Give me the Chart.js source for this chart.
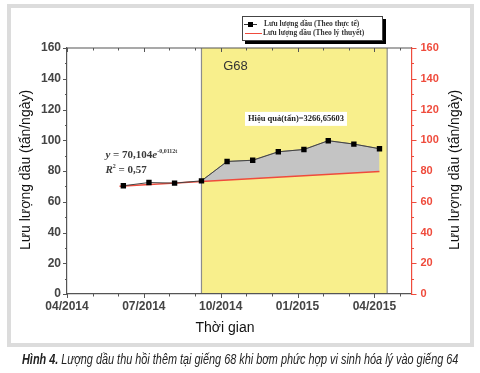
<!DOCTYPE html>
<html lang="vi">
<head>
<meta charset="UTF-8">
<title>Hình 4</title>
<script src="https://cdn.jsdelivr.net/npm/chart.js"></script>
<style>
  body { margin: 0; background: #fff; width: 480px; height: 373px; overflow: hidden; position: relative; }
  #frame { position: absolute; left: 7px; top: 4px; width: 467px; height: 343px; box-sizing: border-box; border: 4px solid #dcdcdc; }
  #chartCanvas { position: absolute; left: 0; top: 0; }
  #caption { position: absolute; left: 22px; top: 351px; white-space: nowrap; transform-origin: 0 0;
    font-family: "Liberation Sans", Arial, sans-serif; font-style: italic; font-size: 14px; color: #222; }
</style>
</head>
<body>
<div id="frame"></div>
<canvas id="chartCanvas" width="480" height="373"></canvas>
<div id="caption"><b>Hình 4.</b> Lượng dầu thu hồi thêm tại giếng 68 khi bơm phức hợp vi sinh hóa lý vào giếng 64</div>

<script>
    // x values are months counted from 04/2014
    const months = [2.2, 3.2, 4.2, 5.25, 6.25, 7.25, 8.25, 9.25, 10.2, 11.2, 12.2];
    const actualFlow = [70.4, 72.5, 72.1, 73.6, 86.2, 87.0, 92.5, 94.0, 99.7, 97.5, 94.5];
    const theoryMonths = [2.05, 5.25, 12.2];
    const theoryFlow = [70.1, 73.2, 79.7];
    const xTickValues = [0, 3, 6, 9, 12];
    const xTickLabels = ['04/2014', '07/2014', '10/2014', '01/2015', '04/2015'];
    const injectionPeriod = [5.25, 12.5]; // yellow G68 band
    const seriesNames = ['Lưu lượng dầu (Theo thực tế)', 'Lưu lượng dầu (Theo lý thuyết)'];
    const startFill = 3; // gain area starts at this point

    const toXY = (xs, ys) => xs.map((x, i) => ({ x: x, y: ys[i] }));

    const axisGray = '#555';
    const red = '#ef4b3c';

    // squeeze caption into the condensed width of the original
    const cap = document.getElementById('caption');
    cap.style.transform = 'scaleX(' + (436 / cap.offsetWidth) + ')';

    const overlay = {
        id: 'overlay',
        beforeDraw(chart) {
            const { ctx, chartArea, scales } = chart;
            const x0 = scales.x.getPixelForValue(injectionPeriod[0]);
            const x1 = scales.x.getPixelForValue(injectionPeriod[1]);
            ctx.save();
            ctx.fillStyle = '#f8ef8c';
            ctx.fillRect(x0, chartArea.top, x1 - x0, chartArea.bottom - chartArea.top);
            ctx.strokeStyle = '#8c8c8c';
            ctx.lineWidth = 1.2;
            ctx.beginPath();
            ctx.moveTo(x0, chartArea.top); ctx.lineTo(x0, chartArea.bottom);
            ctx.moveTo(x1, chartArea.top); ctx.lineTo(x1, chartArea.bottom);
            ctx.stroke();
            ctx.restore();
        },
        afterDraw(chart) {
            const { ctx, chartArea: a, scales } = chart;
            const xs = scales.x, y = scales.y;
            ctx.save();

            // top frame line
            ctx.strokeStyle = axisGray;
            ctx.lineWidth = 1.2;
            ctx.beginPath();
            ctx.moveTo(a.left, a.top); ctx.lineTo(a.right, a.top);
            ctx.stroke();

            // x tick marks, monthly, bottom outward and top inward
            ctx.lineWidth = 1;
            ctx.beginPath();
            for (let m = 0; m <= 13; m++) {
                const px = Math.round(xs.getPixelForValue(m)) + 0.5;
                const len = m % 3 === 0 ? 4 : 2.5;
                ctx.moveTo(px, a.bottom); ctx.lineTo(px, a.bottom + len);
                ctx.moveTo(px, a.top); ctx.lineTo(px, a.top + len);
            }
            // left y ticks
            for (let v = 0; v <= 160; v += 10) {
                const py = Math.round(y.getPixelForValue(v)) + 0.5;
                const len = v % 20 === 0 ? 4 : 2;
                ctx.moveTo(a.left, py); ctx.lineTo(a.left - len, py);
            }
            ctx.stroke();
            // right y ticks (red)
            ctx.strokeStyle = red;
            ctx.beginPath();
            for (let v = 0; v <= 160; v += 10) {
                const py = Math.round(y.getPixelForValue(v)) + 0.5;
                const len = v % 20 === 0 ? 5 : 2.5;
                ctx.moveTo(a.right, py); ctx.lineTo(a.right + len, py);
            }
            ctx.stroke();

            // G68 label
            ctx.fillStyle = '#333';
            ctx.font = '13px "Liberation Sans", Arial, sans-serif';
            ctx.textBaseline = 'middle';
            ctx.textAlign = 'left';
            ctx.fillText('G68', xs.getPixelForValue(6.1), y.getPixelForValue(147.8));

            // efficiency label with white box
            const effText = 'Hiệu quả(tấn)=3266,65603';
            ctx.font = 'bold 8.5px "Liberation Serif", serif';
            const ex = xs.getPixelForValue(8.94), ey = y.getPixelForValue(113.9);
            const ew = ctx.measureText(effText).width;
            ctx.fillStyle = '#fff';
            ctx.fillRect(ex - ew / 2 - 3, ey - 7, ew + 6, 14);
            ctx.fillStyle = '#222';
            ctx.textAlign = 'center';
            ctx.fillText(effText, ex, ey);

            // regression equation
            ctx.textAlign = 'left';
            ctx.textBaseline = 'alphabetic';
            ctx.fillStyle = '#3a3a3a';
            let px = xs.getPixelForValue(1.5);
            const by1 = y.getPixelForValue(88.7);
            const by2 = y.getPixelForValue(78.8);
            const parts = [
                ['italic bold 11px "Liberation Serif", serif', 'y', 0],
                ['bold 11px "Liberation Serif", serif', ' = 70,104', 0],
                ['italic bold 11px "Liberation Serif", serif', 'e', 0],
                ['bold 6px "Liberation Serif", serif', '-0,0112t', -5]
            ];
            parts.forEach(p => {
                ctx.font = p[0];
                ctx.fillText(p[1], px, by1 + p[2]);
                px += ctx.measureText(p[1]).width;
            });
            px = xs.getPixelForValue(1.5);
            const parts2 = [
                ['italic bold 11px "Liberation Serif", serif', 'R', 0],
                ['bold 6px "Liberation Serif", serif', '2', -5],
                ['bold 11px "Liberation Serif", serif', ' = 0,57', 0]
            ];
            parts2.forEach(p => {
                ctx.font = p[0];
                ctx.fillText(p[1], px, by2 + p[2]);
                px += ctx.measureText(p[1]).width;
            });

            // legend box with shadow
            ctx.fillStyle = '#000';
            ctx.fillRect(245, 19, 141, 25);
            ctx.fillStyle = '#fff';
            ctx.fillRect(242, 16, 141, 25);
            ctx.strokeStyle = '#444';
            ctx.lineWidth = 1;
            ctx.strokeRect(242.5, 16.5, 140, 24);
            ctx.strokeStyle = '#333';
            ctx.beginPath(); ctx.moveTo(244, 24.5); ctx.lineTo(257, 24.5); ctx.stroke();
            ctx.fillStyle = '#000';
            ctx.fillRect(248, 22, 5, 5);
            ctx.strokeStyle = red;
            ctx.beginPath(); ctx.moveTo(245, 33.5); ctx.lineTo(262, 33.5); ctx.stroke();
            ctx.fillStyle = '#333';
            ctx.font = 'bold 7.5px "Liberation Serif", serif';
            ctx.textBaseline = 'middle';
            ctx.fillText(seriesNames[0], 264, 24.5);
            ctx.fillText(seriesNames[1], 263, 33.5);

            // axis titles
            ctx.fillStyle = '#111';
            ctx.font = '14px "Liberation Sans", Arial, sans-serif';
            ctx.textAlign = 'center';
            ctx.fillText('Thời gian', 225, 328);
            ['L', 'R'].forEach(side => {
                ctx.save();
                ctx.translate(side === 'L' ? 26 : 455, 170);
                ctx.rotate(-Math.PI / 2);
                ctx.fillText('Lưu lượng dầu (tấn/ngày)', 0, 0);
                ctx.restore();
            });

            ctx.restore();
        }
    };

    const ctx = document.getElementById('chartCanvas').getContext('2d');

    const chart = new Chart(ctx, {
        type: 'line',
        data: {
            datasets: [
                {
                    label: 'gain',
                    data: toXY(months.slice(startFill), actualFlow.slice(startFill)),
                    borderColor: '#8a8a8a',
                    borderWidth: 1,
                    backgroundColor: '#c4c4c4',
                    pointRadius: 0,
                    fill: 1,
                    order: 3
                },
                {
                    label: seriesNames[1],
                    data: toXY(theoryMonths, theoryFlow),
                    borderColor: red,
                    borderWidth: 1.5,
                    pointRadius: 0,
                    fill: false,
                    order: 2
                },
                {
                    label: seriesNames[0],
                    data: toXY(months, actualFlow),
                    borderColor: '#444',
                    borderWidth: 1,
                    pointStyle: 'rect',
                    pointRadius: 3.8,
                    pointBackgroundColor: '#000',
                    pointBorderColor: '#000',
                    pointBorderWidth: 0,
                    fill: false,
                    order: 1
                }
            ]
        },
        options: {
            responsive: false,
            animation: false,
            layout: { padding: { top: 48, left: 0, right: 0, bottom: 0 } },
            plugins: {
                legend: { display: false },
                tooltip: { enabled: false }
            },
            scales: {
                x: {
                    type: 'linear',
                    min: 0,
                    max: 13.45,
                    grid: { display: false, drawTicks: false },
                    border: { display: true, color: axisGray, width: 1.2 },
                    afterBuildTicks: s => { s.ticks = xTickValues.map(v => ({ value: v })); },
                    ticks: {
                        autoSkip: false,
                        maxRotation: 0,
                        padding: 5,
                        color: '#444',
                        font: { family: '"Liberation Sans", Arial, sans-serif', size: 12, weight: 'bold' },
                        callback: v => xTickLabels[xTickValues.indexOf(v)] || ''
                    },
                    afterFit: s => { s.height = 79; }
                },
                y: {
                    position: 'left',
                    min: 0,
                    max: 160,
                    grid: { display: false, drawTicks: false },
                    border: { display: true, color: axisGray, width: 1.2 },
                    ticks: {
                        stepSize: 20,
                        padding: 6,
                        color: '#444',
                        font: { family: '"Liberation Sans", Arial, sans-serif', size: 12, weight: 'bold' }
                    },
                    afterFit: s => { s.width = 67; }
                },
                y2: {
                    position: 'right',
                    min: 0,
                    max: 160,
                    grid: { display: false, drawTicks: false },
                    border: { display: true, color: red, width: 1.2 },
                    ticks: {
                        stepSize: 20,
                        padding: 9,
                        color: red,
                        font: { family: '"Liberation Sans", Arial, sans-serif', size: 11, weight: 'bold' }
                    },
                    afterFit: s => { s.width = 68.5; }
                }
            }
        },
        plugins: [overlay]
    });
</script>
</body>
</html>
